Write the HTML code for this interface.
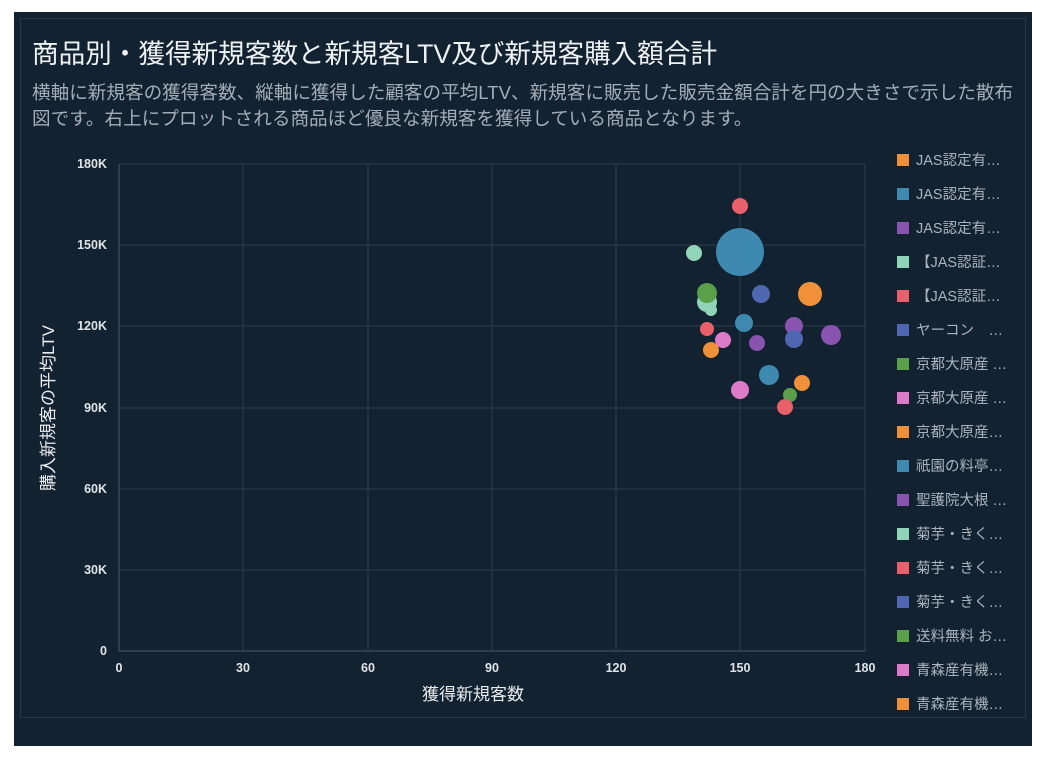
<!DOCTYPE html>
<html><head><meta charset="utf-8"><style>
body{margin:0;background:#fff;width:1055px;height:764px;overflow:hidden;font-family:"Liberation Sans","Noto Sans CJK JP",sans-serif}
.panel{position:absolute;left:14px;top:12px;width:1018px;height:734px;background:#132230}
.inner{position:absolute;left:6px;top:6px;width:1006px;height:700px;border:1px solid #26384a;box-sizing:border-box}
.t{position:absolute;left:32px;top:32px;color:#eef2f5;font-size:26.6px;white-space:nowrap}
.s{position:absolute;left:32px;top:80px;color:#a3adb8;font-size:18.6px;line-height:26px;width:992px}
</style></head><body>
<div class="panel"><div class="inner"></div></div>
<div class="t">商品別・獲得新規客数と新規客LTV及び新規客購入額合計</div>
<div class="s">横軸に新規客の獲得客数、縦軸に獲得した顧客の平均LTV、新規客に販売した販売金額合計を円の大きさで示した散布図です。右上にプロットされる商品ほど優良な新規客を獲得している商品となります。</div>
<svg width="1055" height="764" style="position:absolute;left:0;top:0" font-family="Liberation Sans, Noto Sans CJK JP, sans-serif">
<g stroke="#2b3d4e" stroke-width="1">
<line x1="119" y1="164" x2="865" y2="164"/><line x1="119" y1="245" x2="865" y2="245"/><line x1="119" y1="326" x2="865" y2="326"/><line x1="119" y1="408" x2="865" y2="408"/><line x1="119" y1="489" x2="865" y2="489"/><line x1="119" y1="570" x2="865" y2="570"/>
<line x1="243" y1="164" x2="243" y2="651"/><line x1="368" y1="164" x2="368" y2="651"/><line x1="492" y1="164" x2="492" y2="651"/><line x1="616" y1="164" x2="616" y2="651"/><line x1="740" y1="164" x2="740" y2="651"/><line x1="865" y1="164" x2="865" y2="651"/>
</g>
<line x1="119" y1="164" x2="119" y2="651" stroke="#4a5b6b"/><line x1="119" y1="651" x2="865" y2="651" stroke="#4a5b6b"/>
<g fill="#dfe4e8" font-size="12.5" font-weight="bold" text-anchor="end">
<text x="107" y="168">180K</text><text x="107" y="249">150K</text><text x="107" y="330">120K</text><text x="107" y="412">90K</text><text x="107" y="493">60K</text><text x="107" y="574">30K</text><text x="107" y="655">0</text></g>
<g fill="#dfe4e8" font-size="12.5" font-weight="bold" text-anchor="middle">
<text x="119" y="672">0</text><text x="243" y="672">30</text><text x="368" y="672">60</text><text x="492" y="672">90</text><text x="616" y="672">120</text><text x="740" y="672">150</text><text x="865" y="672">180</text></g>
<text x="473" y="700" fill="#e8ecef" font-size="17" text-anchor="middle">獲得新規客数</text>
<text transform="translate(54,408) rotate(-90)" fill="#e8ecef" font-size="17" text-anchor="middle">購入新規客の平均LTV</text>
<g>
<circle cx="740" cy="206" r="8" fill="#e8606a"/>
<circle cx="740" cy="252" r="24" fill="#3d89b0"/>
<circle cx="694" cy="253" r="8" fill="#90d5b8"/>
<circle cx="707" cy="302" r="10" fill="#90d5b8"/>
<circle cx="711" cy="310" r="6" fill="#90d5b8"/>
<circle cx="707" cy="293" r="10" fill="#5aa04b"/>
<circle cx="761" cy="294" r="9" fill="#4f67b0"/>
<circle cx="810" cy="294" r="12" fill="#f0913a"/>
<circle cx="744" cy="323" r="9" fill="#3d89b0"/>
<circle cx="794" cy="326" r="9" fill="#8954b0"/>
<circle cx="831" cy="335" r="10" fill="#8954b0"/>
<circle cx="794" cy="339" r="9" fill="#4f67b0"/>
<circle cx="707" cy="329" r="7" fill="#e8606a"/>
<circle cx="723" cy="340" r="8" fill="#dd7bc9"/>
<circle cx="757" cy="343" r="8" fill="#8954b0"/>
<circle cx="711" cy="350" r="8" fill="#f0913a"/>
<circle cx="769" cy="375" r="10" fill="#3d89b0"/>
<circle cx="802" cy="383" r="8" fill="#f0913a"/>
<circle cx="740" cy="390" r="9" fill="#dd7bc9"/>
<circle cx="790" cy="395" r="7" fill="#5aa04b"/>
<circle cx="785" cy="407" r="8" fill="#e8606a"/>
</g>
<g font-size="14.5" fill="#aab4be">
<rect x="897" y="154" width="12" height="12" fill="#f0913a"/><text x="916" y="165">JAS認定有…</text>
<rect x="897" y="188" width="12" height="12" fill="#3d89b0"/><text x="916" y="199">JAS認定有…</text>
<rect x="897" y="222" width="12" height="12" fill="#8954b0"/><text x="916" y="233">JAS認定有…</text>
<rect x="897" y="256" width="12" height="12" fill="#90d5b8"/><text x="916" y="267">【JAS認証…</text>
<rect x="897" y="290" width="12" height="12" fill="#e8606a"/><text x="916" y="301">【JAS認証…</text>
<rect x="897" y="324" width="12" height="12" fill="#4f67b0"/><text x="916" y="335">ヤーコン　…</text>
<rect x="897" y="358" width="12" height="12" fill="#5aa04b"/><text x="916" y="369">京都大原産 …</text>
<rect x="897" y="392" width="12" height="12" fill="#dd7bc9"/><text x="916" y="403">京都大原産 …</text>
<rect x="897" y="426" width="12" height="12" fill="#f0913a"/><text x="916" y="437">京都大原産…</text>
<rect x="897" y="460" width="12" height="12" fill="#3d89b0"/><text x="916" y="471">祇園の料亭…</text>
<rect x="897" y="494" width="12" height="12" fill="#8954b0"/><text x="916" y="505">聖護院大根 …</text>
<rect x="897" y="528" width="12" height="12" fill="#90d5b8"/><text x="916" y="539">菊芋・きく…</text>
<rect x="897" y="562" width="12" height="12" fill="#e8606a"/><text x="916" y="573">菊芋・きく…</text>
<rect x="897" y="596" width="12" height="12" fill="#4f67b0"/><text x="916" y="607">菊芋・きく…</text>
<rect x="897" y="630" width="12" height="12" fill="#5aa04b"/><text x="916" y="641">送料無料 お…</text>
<rect x="897" y="664" width="12" height="12" fill="#dd7bc9"/><text x="916" y="675">青森産有機…</text>
<rect x="897" y="698" width="12" height="12" fill="#f0913a"/><text x="916" y="709">青森産有機…</text>
</g>
</svg>
</body></html>
